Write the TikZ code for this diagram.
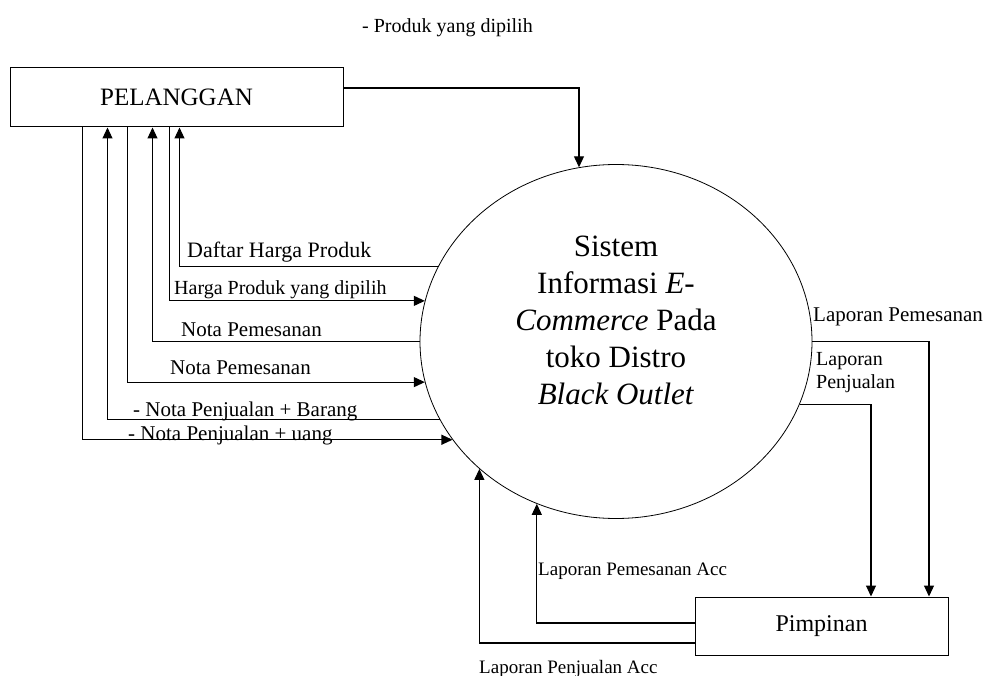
\documentclass[tikz,border=0pt]{standalone}
\usepackage{fontspec}
\setmainfont{Liberation Serif}
\usetikzlibrary{shapes.geometric,arrows.meta}
\tikzset{
    kotak/.style={draw,line width=1pt,font=\fontsize{25}{30}\selectfont},
    proses/.style={draw,ellipse,line width=0.8pt,minimum width=392pt,minimum height=354pt},
    alur/.style={line width=1.1pt,-{Triangle[length=11pt,width=10pt]}},
    ket/.style={anchor=base west,inner sep=0pt,font=\fontsize{21}{25}\selectfont},
}

\begin{document}
\begin{tikzpicture}[x=1pt,y=-1pt]
    \useasboundingbox (0,0) rectangle (991,676);
    \node[kotak,minimum width=333pt,minimum height=59pt] (pel) at (176.5,97.5) {PELANGGAN};
    \node[kotak,minimum width=253pt,minimum height=58pt,font=\fontsize{24}{29}\selectfont] (pim) at (821.5,626) {Pimpinan};
    \node[proses] (sys) at (616,341.5) {};
    \node[align=center,font=\fontsize{31}{37}\selectfont] (judul) at (616,320) {Sistem\\Informasi \textit{E-}\\\textit{Commerce} Pada\\toko Distro\\\textit{Black Outlet}};

    \draw[alur] ([yshift=9.5pt]pel.east) -| (sys.102.3);
    \draw[alur] (sys.157.9) -| ([xshift=170pt]pel.south west);
    \draw[alur] ([xshift=160pt]pel.south west) |- (sys.168.6);
    \draw[alur] (sys.180) -| ([xshift=143pt]pel.south west);
    \draw[alur] ([xshift=118pt]pel.south west) |- (sys.192);
    \draw[alur] (sys.204.4) -| ([xshift=98pt]pel.south west);
    \draw[alur] ([xshift=73pt]pel.south west) |- (sys.211.2);
    \draw[alur] (sys.0) -| ([xshift=107.5pt]pim.north);
    \draw[alur] (sys.341.8) -| ([xshift=49.5pt]pim.north);
    \draw[alur] ([yshift=3pt]pim.west) -| (sys.244.4);
    \draw[alur] ([yshift=-17pt]pim.west) -| (sys.223.1);

    \node[ket,font=\fontsize{20}{24}\selectfont] (tPilih) at (362,33) {- Produk yang dipilih};
    \node[ket,font=\fontsize{22}{26}\selectfont] (tDaftar) at (187,258) {Daftar Harga Produk};
    \node[ket,font=\fontsize{20}{24}\selectfont] (tHarga) at (174,295) {Harga Produk yang dipilih};
    \node[ket] (tNota) at (181,337) {Nota Pemesanan};
    \node[ket] (tNotaB) at (170,374) {Nota Pemesanan};
    \node[ket] (tBarang) at (133,416) {- Nota Penjualan + Barang};
    \node[ket] (tUang) at (128,440) {- Nota Penjualan + uang};
    \node[ket] (tLapPes) at (813,322) {Laporan Pemesanan};
    \node[ket,anchor=north west,align=left,font=\fontsize{20}{23}\selectfont] (tLapJual) at (816,352) {Laporan\\Penjualan};
    \node[ket,font=\fontsize{19}{23}\selectfont] (tAccPes) at (538,575) {Laporan Pemesanan Acc};
    \node[ket,font=\fontsize{19}{23}\selectfont] (tAccJual) at (479,673) {Laporan Penjualan Acc};
\end{tikzpicture}
\end{document}
